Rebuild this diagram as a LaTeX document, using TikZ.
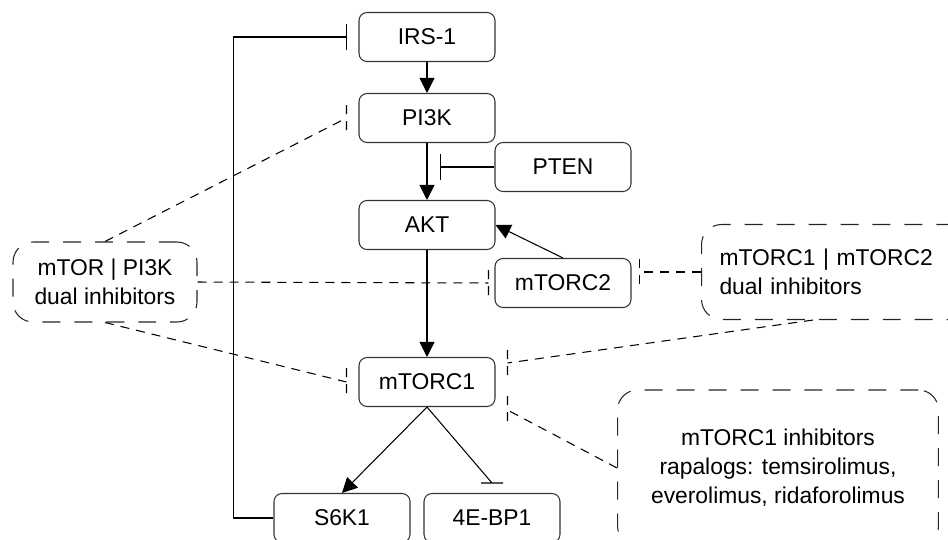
\documentclass[tikz,border=0pt]{standalone}
\usepackage{fontspec}
\setmainfont{Liberation Sans}
\usetikzlibrary{arrows.meta,calc}

\begin{document}
\begin{tikzpicture}[x=0.02cm, y=-0.02cm,
    every node/.style={font=\fontsize{13pt}{16.5pt}\selectfont},
    prot/.style={draw=black!80, line width=0.6pt, rounded corners=0.16cm,
      minimum width=2.72cm, minimum height=0.98cm, inner sep=0pt},
    drug/.style={draw=black!85, line width=0.6pt, dash pattern=on 0.36cm off 0.28cm,
      rounded corners=0.4cm, inner sep=0pt, align=center},
    act/.style={line width=0.6pt, -{Triangle[width=0.3cm, length=0.3cm]}},
    inh/.style={line width=0.6pt, -{Bar[width=0.52cm]}, shorten >=0.22cm},
    blk/.style={line width=0.6pt, dash pattern=on 0.18cm off 0.14cm}]

  \useasboundingbox (0,0) rectangle (948,539);

  % pathway
  \node[prot] (irs1)   at (427,37)  {IRS-1};
  \node[prot] (pi3k)   at (427,118) {PI3K};
  \node[prot] (pten)   at (563,167) {PTEN};
  \node[prot] (akt)    at (427,225) {AKT};
  \node[prot] (mtorc2) at (563,283) {mTORC2};
  \node[prot] (mtorc1) at (427,382) {mTORC1};
  \node[prot] (s6k1)   at (342,518) {S6K1};
  \node[prot] (ebp1)   at (492,518) {4E-BP1};

  % drugs
  \node[drug, minimum width=3.68cm, minimum height=1.6cm] (dual1) at (105,282)
    {mTOR | PI3K\\dual inhibitors};
  \node[drug, align=left, inner xsep=0.36cm, text width=4.74cm, minimum height=1.9cm]
    (dual2) at (838,272) {mTORC1 | mTORC2\\dual inhibitors};
  \node[drug, minimum width=6.42cm, minimum height=3.12cm] (rapa) at (778,468)
    {mTORC1 inhibitors\\rapalogs: temsirolimus,\\everolimus, ridaforolimus};

  \draw[act] (irs1) -- (pi3k);
  \draw[act] (pi3k) -- (akt);
  \draw[act] (akt) -- (mtorc1);
  \draw[act] (mtorc2.north) -- (akt.east);
  \draw[act] (mtorc1.south) -- (s6k1.north);
  \draw[inh, shorten >=0.26cm] (pten.west) -- (pten.west -| akt.north);
  \draw[line width=0.6pt] (mtorc1.south) -- ($(ebp1.north)+(0,-10)$) ++(-11,0) -- ++(22,0);
  % feedback loop
  \draw[inh] (s6k1.west) -- ++(-40,0) |- (irs1.west);

  % inhibitor targets
  \draw[blk] (dual1.north) -- ($(pi3k.west)+(-12,0)$) ++(0,-13) -- ++(0,26);
  \draw[blk] (dual1.east) -- ($(mtorc2.west)+(-6,0)$) ++(0,-13) -- ++(0,26);
  \draw[blk] (dual1.south) -- ($(mtorc1.west)+(-12,0)$) ++(0,-14) -- ++(0,28);
  \draw[blk] (dual2.west) -- ($(dual2.west -| mtorc2.east)+(8,0)$) ++(0,-13) -- ++(0,26);
  \draw[blk] ($(dual2.south)+(-25,0)$) -- ($(mtorc1.east)+(12,-19)$) ++(0,-13) -- ++(0,26);
  \draw[blk] (rapa.west) -- ($(mtorc1.east)+(12,28)$) ++(0,-14) -- ++(0,28);
\end{tikzpicture}
\end{document}
